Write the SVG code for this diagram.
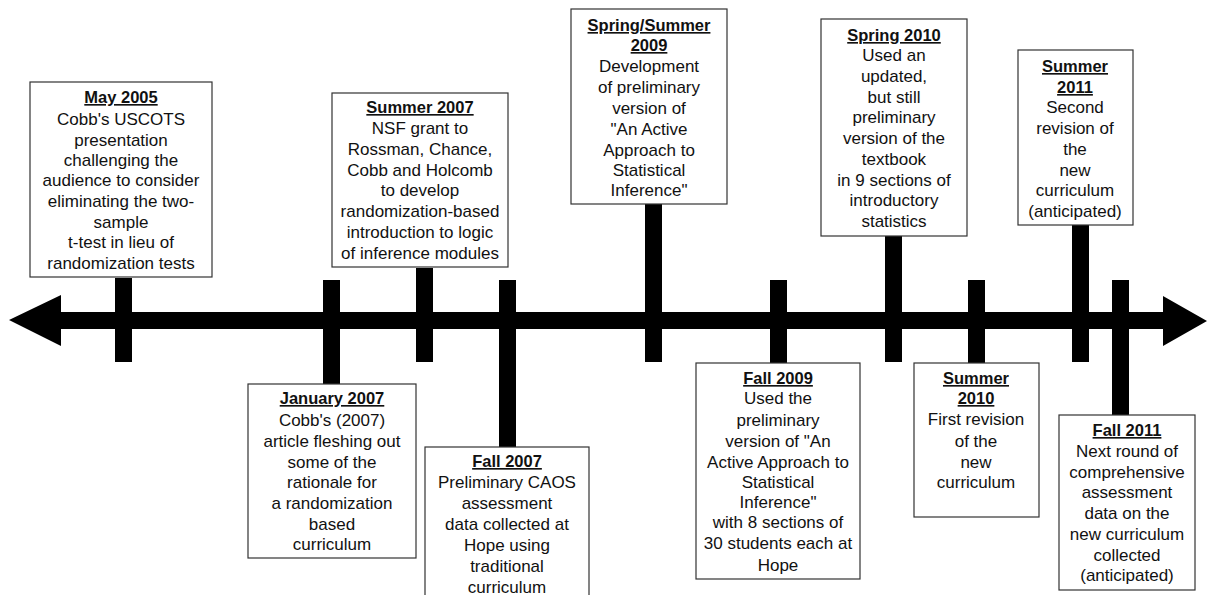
<svg xmlns="http://www.w3.org/2000/svg" width="1208" height="595" viewBox="0 0 1208 595">
<style>
.box{fill:#fff;stroke:#333;stroke-width:1.2}
.bar{fill:#000}
text{font-family:"Liberation Sans",Arial,sans-serif;font-size:17px;fill:#111;text-anchor:middle}
.h{font-weight:bold;font-size:16.5px;text-decoration:underline}
</style>
<rect width="1208" height="595" fill="#fff"/>
<g id="connectors">
<polygon class="bar" points="9,320 61,295 61,312 1163,312 1163,296 1207,321 1163,346 1163,329 61,329 61,346"/>
<rect class="bar" x="115" y="278" width="17" height="84"/>
<rect class="bar" x="323" y="280" width="17" height="104"/>
<rect class="bar" x="416" y="268" width="17" height="94"/>
<rect class="bar" x="499" y="280" width="17" height="167"/>
<rect class="bar" x="645" y="204" width="17" height="158"/>
<rect class="bar" x="770" y="280" width="17" height="83"/>
<rect class="bar" x="885" y="236" width="17" height="126"/>
<rect class="bar" x="968" y="280" width="17" height="83"/>
<rect class="bar" x="1072" y="225" width="17" height="137"/>
<rect class="bar" x="1112" y="280" width="17" height="135"/>
</g>
<g id="may2005">
<rect class="box" x="30" y="82" width="182" height="195"/>
<text x="121" y="103" class="h">May 2005</text>
<text x="121" y="125">Cobb's USCOTS</text>
<text x="121" y="146">presentation</text>
<text x="121" y="166">challenging the</text>
<text x="121" y="186">audience to consider</text>
<text x="121" y="207">eliminating the two-</text>
<text x="121" y="228">sample</text>
<text x="121" y="248">t-test in lieu of</text>
<text x="121" y="269">randomization tests</text>
</g>
<g id="jan2007">
<rect class="box" x="248" y="384" width="168" height="174"/>
<text x="332" y="404" class="h">January 2007</text>
<text x="332" y="426">Cobb's (2007)</text>
<text x="332" y="447">article fleshing out</text>
<text x="332" y="468">some of the</text>
<text x="332" y="488">rationale for</text>
<text x="332" y="509">a randomization</text>
<text x="332" y="530">based</text>
<text x="332" y="550">curriculum</text>
</g>
<g id="summer2007">
<rect class="box" x="332" y="93" width="176" height="174"/>
<text x="420" y="113" class="h">Summer 2007</text>
<text x="420" y="134">NSF grant to</text>
<text x="420" y="155">Rossman, Chance,</text>
<text x="420" y="176">Cobb and Holcomb</text>
<text x="420" y="196">to develop</text>
<text x="420" y="217">randomization-based</text>
<text x="420" y="238">introduction to logic</text>
<text x="420" y="259">of inference modules</text>
</g>
<g id="fall2007">
<rect class="box" x="425" y="447" width="164" height="160"/>
<text x="507" y="467" class="h">Fall 2007</text>
<text x="507" y="488">Preliminary CAOS</text>
<text x="507" y="509">assessment</text>
<text x="507" y="530">data collected at</text>
<text x="507" y="551">Hope using</text>
<text x="507" y="572">traditional</text>
<text x="507" y="593">curriculum</text>
</g>
<g id="springsummer2009">
<rect class="box" x="571" y="9" width="156" height="195"/>
<text x="649" y="31" class="h">Spring/Summer</text>
<text x="649" y="51" class="h">2009</text>
<text x="649" y="72">Development</text>
<text x="649" y="93">of preliminary</text>
<text x="649" y="114">version of</text>
<text x="649" y="135">"An Active</text>
<text x="649" y="156">Approach to</text>
<text x="649" y="176">Statistical</text>
<text x="649" y="196">Inference"</text>
</g>
<g id="fall2009">
<rect class="box" x="696" y="363" width="164" height="216"/>
<text x="778" y="384" class="h">Fall 2009</text>
<text x="778" y="404">Used the</text>
<text x="778" y="426">preliminary</text>
<text x="778" y="447">version of "An</text>
<text x="778" y="468">Active Approach to</text>
<text x="778" y="488">Statistical</text>
<text x="778" y="508">Inference"</text>
<text x="778" y="528">with 8 sections of</text>
<text x="778" y="549">30 students each at</text>
<text x="778" y="571">Hope</text>
</g>
<g id="spring2010">
<rect class="box" x="821" y="19" width="146" height="217"/>
<text x="894" y="41" class="h">Spring 2010</text>
<text x="894" y="61">Used an</text>
<text x="894" y="82">updated,</text>
<text x="894" y="103">but still</text>
<text x="894" y="123">preliminary</text>
<text x="894" y="144">version of the</text>
<text x="894" y="165">textbook</text>
<text x="894" y="186">in 9 sections of</text>
<text x="894" y="206">introductory</text>
<text x="894" y="227">statistics</text>
</g>
<g id="summer2010">
<rect class="box" x="914" y="363" width="125" height="154"/>
<text x="976" y="384" class="h">Summer</text>
<text x="976" y="404" class="h">2010</text>
<text x="976" y="425">First revision</text>
<text x="976" y="447">of the</text>
<text x="976" y="468">new</text>
<text x="976" y="488">curriculum</text>
</g>
<g id="summer2011">
<rect class="box" x="1018" y="50" width="115" height="175"/>
<text x="1075" y="72" class="h">Summer</text>
<text x="1075" y="93" class="h">2011</text>
<text x="1075" y="113">Second</text>
<text x="1075" y="134">revision of</text>
<text x="1075" y="155">the</text>
<text x="1075" y="176">new</text>
<text x="1075" y="196">curriculum</text>
<text x="1075" y="217">(anticipated)</text>
</g>
<g id="fall2011">
<rect class="box" x="1059" y="415" width="136" height="175"/>
<text x="1127" y="436" class="h">Fall 2011</text>
<text x="1127" y="457">Next round of</text>
<text x="1127" y="478">comprehensive</text>
<text x="1127" y="498">assessment</text>
<text x="1127" y="519">data on the</text>
<text x="1127" y="540">new curriculum</text>
<text x="1127" y="561">collected</text>
<text x="1127" y="581">(anticipated)</text>
</g>
</svg>
